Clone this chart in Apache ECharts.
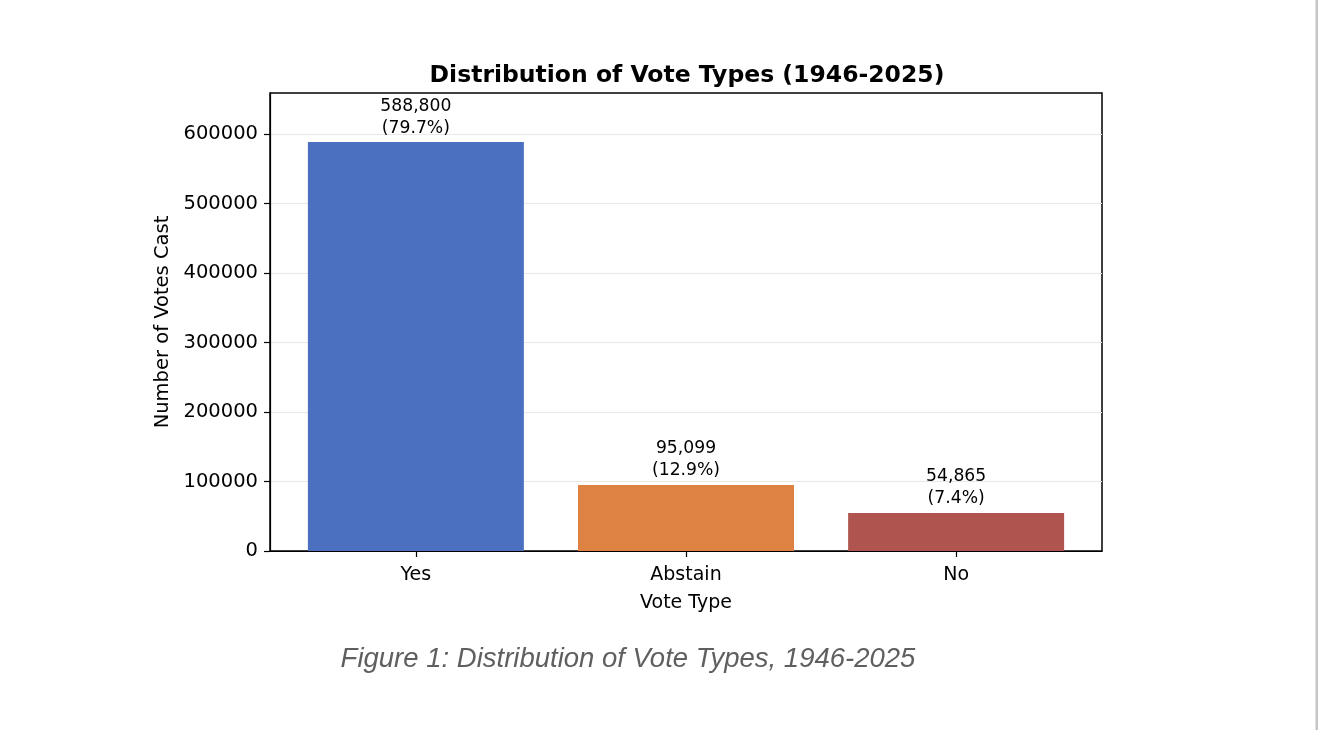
<!DOCTYPE html>
<html>
<head>
<meta charset="utf-8">
<script src="https://cdn.jsdelivr.net/npm/echarts@6/dist/echarts.min.js"></script>
<style>
  html, body { margin: 0; padding: 0; background: #ffffff; }
  #chart { width: 1318px; height: 730px; }
</style>
</head>
<body>
<div id="chart"></div>
<script>
// 数据
var voteTypes = ['Yes', 'Abstain', 'No'];
var voteCounts = [588800, 95099, 54865];
var voteShares = ['79.7%', '12.9%', '7.4%'];
var barColors = ['#4a70bf', '#dd8243', '#b0544f'];
var yTicks = [0, 100000, 200000, 300000, 400000, 500000, 600000];

var myChart = echarts.init(document.getElementById('chart'));

var barData = voteCounts.map(function (v, i) {
    return {value: [i, v], itemStyle: {color: barColors[i]}};
});

var font = 'DejaVu Sans';

var option = {
    backgroundColor: '#ffffff',
    animation: false,
    title: {
        text: 'Distribution of Vote Types (1946-2025)',
        left: 682,
        top: 59,
        textAlign: 'center',
        textStyle: {fontFamily: font, fontWeight: 'bold', fontSize: 23.5, color: '#000'}
    },
    grid: {
        left: 270, right: 216, top: 93, bottom: 179,
        show: true, borderColor: '#000', borderWidth: 1.5
    },
    xAxis: {
        type: 'value',
        min: -0.54,
        max: 2.54,
        name: 'Vote Type',
        nameLocation: 'middle',
        nameGap: 43,
        nameTextStyle: {fontFamily: font, fontSize: 19, color: '#000'},
        axisLine: {show: true, onZero: false, lineStyle: {color: '#000', width: 1.2}},
        axisTick: {show: true, length: 6, customValues: [0, 1, 2], lineStyle: {color: '#000', width: 1.2}},
        axisLabel: {
            margin: 15,
            customValues: [0, 1, 2],
            fontFamily: font, fontSize: 19, color: '#000',
            formatter: function (v) { return voteTypes[Math.round(v)]; }
        },
        splitLine: {show: false}
    },
    yAxis: {
        type: 'value',
        min: 0,
        max: voteCounts[0] * 1.12,
        interval: 100000,
        name: 'Number of Votes Cast',
        nameLocation: 'middle',
        nameGap: 96,
        nameTextStyle: {fontFamily: font, fontSize: 19.5, color: '#000'},
        axisLine: {show: true, onZero: false, lineStyle: {color: '#000', width: 1.2}},
        axisTick: {show: true, length: 6, customValues: yTicks, lineStyle: {color: '#000', width: 1.2}},
        axisLabel: {
            margin: 12,
            customValues: yTicks,
            fontFamily: font, fontSize: 19.5, color: '#000',
            formatter: function (v) { return String(v); }
        },
        splitLine: {show: true, lineStyle: {color: '#e8e8e8', width: 1.2}}
    },
    series: [
        {
            type: 'bar',
            barWidth: 216,
            data: barData,
            label: {
                show: true,
                position: 'top',
                distance: 3,
                fontFamily: font,
                fontSize: 17.2,
                lineHeight: 22,
                color: '#000',
                formatter: function (p) {
                    var i = p.dataIndex;
                    return voteCounts[i].toLocaleString('en-US') + '\n(' + voteShares[i] + ')';
                }
            }
        }
    ],
    graphic: [
        {
            type: 'text',
            x: 628,
            y: 659,
            style: {
                text: 'Figure 1: Distribution of Vote Types, 1946-2025',
                fontFamily: 'Liberation Sans',
                fontStyle: 'italic',
                fontSize: 27.5,
                fill: '#5f5f5f',
                textAlign: 'center',
                textVerticalAlign: 'middle'
            }
        },
        {
            type: 'rect',
            right: 0,
            top: 0,
            shape: {width: 2.5, height: 730},
            style: {fill: '#c6c6c6'}
        }
    ]
};

myChart.setOption(option);
</script>
</body>
</html>
